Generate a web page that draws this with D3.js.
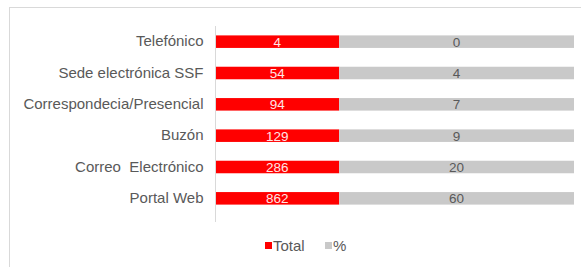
<!DOCTYPE html>
<html lang="es">
<head>
  <meta charset="UTF-8" />
  <title>Canales</title>
  <script src="https://d3js.org/d3.v7.js"></script>
  <style>
    body { margin: 0; background: #fff; }
    text { font-family: "Liberation Sans", Arial, sans-serif; white-space: pre; }
  </style>
</head>
<body>
  <div id="chart"></div>
<script>
  // Data
  const categories = ["Telefónico", "Sede electrónica SSF", "Correspondecia/Presencial", "Buzón", "Correo  Electrónico", "Portal Web"]
  const totals = [4, 54, 94, 129, 286, 862]
  const percents = [0, 4, 7, 9, 20, 60]
  const seriesNames = ["Total", "%"]
  // visible share of each bar taken by each series
  const seriesShare = [34.5, 65.5]

  const width = 581
  const height = 267
  const colors = { "Total": "#ff0000", "%": "#c9c9c9" }

  const svg = d3.select("#chart").append("svg")
    .attr("width", width)
    .attr("height", height)

  // frame
  svg.append("rect")
    .attr("x", 9.5).attr("y", 7.5)
    .attr("width", width).attr("height", height)
    .attr("fill", "none")
    .attr("stroke", "#d9d9d9")

  const yScale = d3.scaleBand()
    .domain(categories)
    .range([26, 214])
    .paddingInner(0.6)
    .paddingOuter(0.3)

  const xScale = d3.scaleLinear()
    .domain([0, 100])
    .range([215.5, 574])

  const stackStart = [0, seriesShare[0]]

  const rows = categories.map((c, i) => ({ cat: c, values: [totals[i], percents[i]] }))

  const row = svg.selectAll("g.row")
    .data(rows)
    .join("g")
    .attr("class", "row")

  seriesNames.forEach((s, k) => {
    row.append("rect")
      .attr("x", xScale(stackStart[k]))
      .attr("y", d => yScale(d.cat))
      .attr("width", xScale(stackStart[k] + seriesShare[k]) - xScale(stackStart[k]))
      .attr("height", yScale.bandwidth())
      .attr("fill", colors[s])

    row.append("text")
      .attr("x", xScale(stackStart[k] + seriesShare[k] / 2))
      .attr("y", d => yScale(d.cat) + yScale.bandwidth() / 2)
      .attr("dy", "0.36em")
      .attr("text-anchor", "middle")
      .attr("font-size", 13.5)
      .attr("fill", k === 0 ? "#ffe6e6" : "#595959")
      .text(d => d.values[k])
  })

  // category axis
  const yAxis = svg.append("g")
    .attr("transform", `translate(${xScale(0)},0)`)
    .call(d3.axisLeft(yScale).tickSize(0).tickPadding(12))
  yAxis.select(".domain").remove()
  yAxis.selectAll("text")
    .attr("font-size", 15)
    .attr("fill", "#595959")
  svg.append("line")
    .attr("x1", xScale(0)).attr("x2", xScale(0))
    .attr("y1", yScale.range()[0]).attr("y2", yScale.range()[1] + 8)
    .attr("stroke", "#d9d9d9")

  // legend
  const legendX = [265, 325]
  const legend = svg.selectAll("g.legend")
    .data(seriesNames)
    .join("g")
    .attr("class", "legend")
    .attr("transform", (d, i) => `translate(${legendX[i]},245.5)`)
  legend.append("rect")
    .attr("x", 0).attr("y", -3.5)
    .attr("width", 7).attr("height", 7)
    .attr("fill", d => colors[d])
  legend.append("text")
    .attr("x", 8)
    .attr("dy", "0.36em")
    .attr("font-size", 15)
    .attr("fill", "#595959")
    .text(d => d)
</script>
</body>
</html>
